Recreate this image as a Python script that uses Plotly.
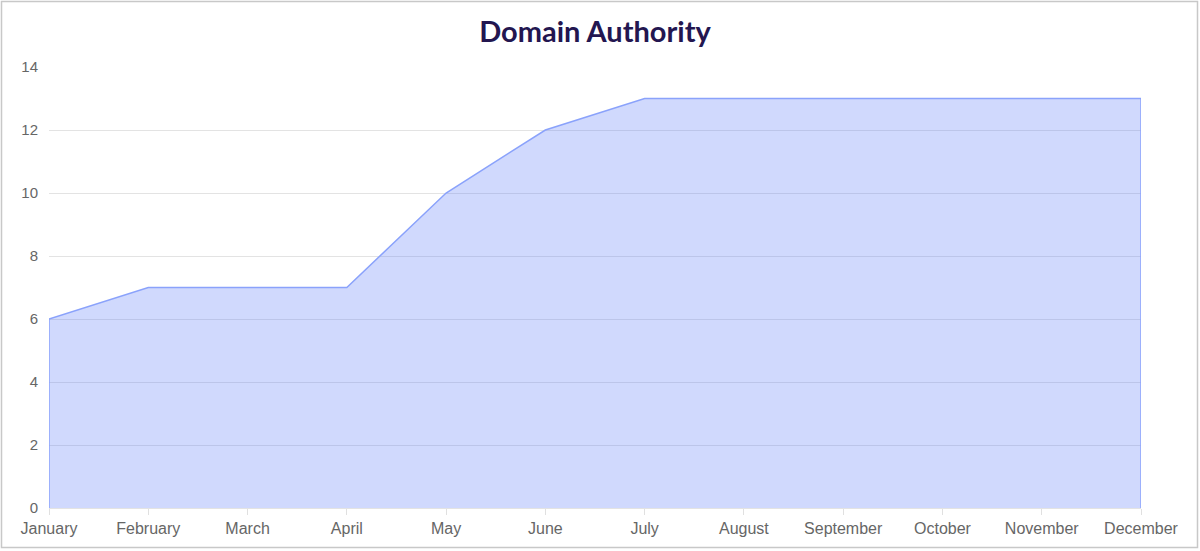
import plotly.graph_objects as go

months = ["January", "February", "March", "April", "May", "June", "July",
          "August", "September", "October", "November", "December"]
domain_authority = [6, 7, 7, 7, 10, 12, 13, 13, 13, 13, 13, 13]
y_ticks = [0, 2, 4, 6, 8, 10, 12, 14]

W, H = 1200, 551
ml, mr, mt, mb = 49, 59, 67, 43
pw, ph = W - ml - mr, H - mt - mb

# closed outline so the area has vertical edges at both ends (as in the reference)
xs = [months[0]] + months + [months[-1]]
ys = [0] + domain_authority + [0]

fig = go.Figure()
fig.add_trace(go.Scatter(
    x=xs, y=ys, mode="lines", fill="tozeroy",
    fillcolor="rgba(99,130,250,0.30)",
    line=dict(color="#8aa2fb", width=1.5),
    hoverinfo="skip", showlegend=False,
))

fig.update_layout(
    width=W, height=H,
    margin=dict(l=ml, r=mr, t=mt, b=mb),
    paper_bgcolor="white", plot_bgcolor="white",
    title=dict(text="<b>Domain Authority</b>", x=0.5, xref="paper", y=1 - 32 / H,
               yanchor="middle", xanchor="center",
               font=dict(family="Lato", size=29, color="#231650")),
    font=dict(family="Liberation Sans, Arial, sans-serif", color="#666666"),
    xaxis=dict(type="category", categoryarray=months, categoryorder="array",
               range=[0, len(months) - 1], showgrid=False, zeroline=False,
               ticks="outside", ticklen=6, tickcolor="#e0e0e0",
               tickfont=dict(size=16, color="#666666"), showline=False),
    yaxis=dict(range=[0, 14], tickvals=y_ticks, showgrid=True,
               gridcolor="#e3e3e3", gridwidth=1, zeroline=True,
               zerolinecolor="#e3e3e3", zerolinewidth=1, ticks="",
               tickfont=dict(size=15, color="#666666"), ticklabelstandoff=10),
    shapes=[dict(type="rect", xref="paper", yref="paper", layer="above",
                 x0=(1.5 - ml) / pw, x1=(1197.5 - ml) / pw,
                 y0=(H - 547.5 - mb) / ph, y1=(H - 1.5 - mb) / ph,
                 line=dict(color="#c8c8c8", width=1.5),
                 fillcolor="rgba(0,0,0,0)")],
)

fig.write_html("out.html", config={"displayModeBar": False},
               post_script="document.body.style.margin='0';document.body.style.overflow='hidden';")
